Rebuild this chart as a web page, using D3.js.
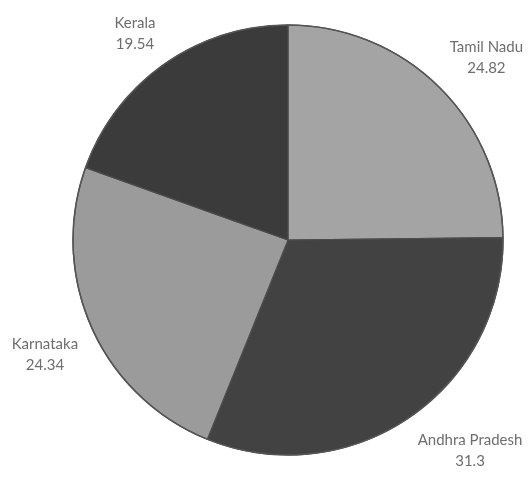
<!DOCTYPE html>
<html>
<head>
<meta charset="utf-8">
<script src="https://cdn.jsdelivr.net/npm/d3@7"></script>
<style>
  html, body { margin: 0; padding: 0; background: #ffffff; }
  svg { display: block; }
</style>
</head>
<body>
<svg id="chart" width="529" height="477"></svg>
<script>
// State shares, clockwise from twelve o'clock
const states = ["Tamil Nadu", "Andhra Pradesh", "Karnataka", "Kerala"];
const shares = [24.82, 31.3, 24.34, 19.54];
const valueLabels = ["24.82", "31.3", "24.34", "19.54"];
const fills = ["#a4a4a4", "#424242", "#9b9b9b", "#3b3b3b"];

const width = 529, height = 477;
const cx = 288, cy = 240, radius = 215;

const svg = d3.select("#chart");

const defs = svg.append("defs");
defs.append("filter").attr("id", "soft")
  .append("feGaussianBlur").attr("stdDeviation", 0.6);

const data = states.map((s, i) => ({ name: s, value: shares[i], text: valueLabels[i], fill: fills[i] }));

const pie = d3.pie().value(d => d.value).sort(null);
const arc = d3.arc().innerRadius(0).outerRadius(radius);
const arcs = pie(data);

const g = svg.append("g").attr("transform", `translate(${cx},${cy})`);

g.append("g").attr("filter", "url(#soft)")
  .selectAll("path")
  .data(arcs)
  .join("path")
  .attr("d", arc)
  .attr("fill", d => d.data.fill)
  .attr("stroke", "#4d4d4d")
  .attr("stroke-width", 1.2);

g.append("circle")
  .attr("r", radius)
  .attr("fill", "none")
  .attr("stroke", "#555555")
  .attr("stroke-width", 1.5)
  .attr("filter", "url(#soft)");

// Labels sit just outside the rim, anchored by the corner nearest the pie
const labelGap = 15;
const labels = g.append("g")
  .attr("filter", "url(#soft)")
  .attr("font-family", "Lato, 'Open Sans', sans-serif")
  .attr("font-size", 15)
  .attr("fill", "#6e6e6e")
  .attr("text-anchor", "middle");

arcs.forEach(d => {
  const mid = (d.startAngle + d.endAngle) / 2;
  const px = Math.sin(mid) * (radius + labelGap);
  const py = -Math.cos(mid) * (radius + labelGap);
  const t = labels.append("text");
  t.append("tspan").attr("x", 0).attr("dy", 0).text(d.data.name);
  t.append("tspan").attr("x", 0).attr("dy", 21).text(d.data.text);
  const bb = t.node().getBBox();
  const sx = Math.sin(mid) >= 0 ? 1 : -1;
  const sy = -Math.cos(mid) >= 0 ? 1 : -1;
  const boxCx = px + sx * bb.width / 2;
  const boxCy = py + sy * bb.height / 2;
  const ox = boxCx - (bb.x + bb.width / 2);
  const oy = boxCy - (bb.y + bb.height / 2);
  t.attr("transform", `translate(${ox},${oy})`);
});
</script>
</body>
</html>
